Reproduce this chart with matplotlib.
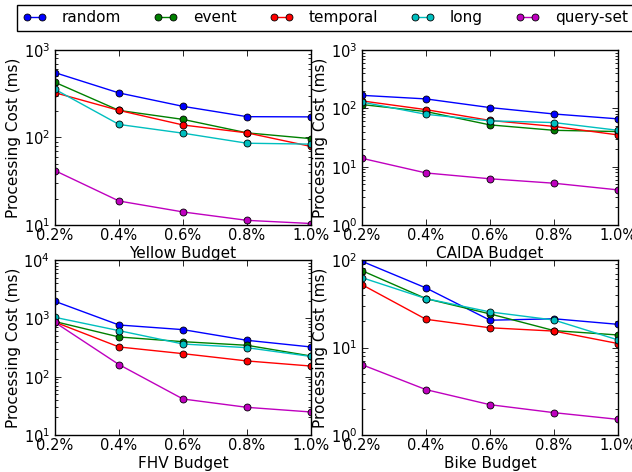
import matplotlib
matplotlib.use('Agg')
import matplotlib.pyplot as plt
from matplotlib.ticker import FixedLocator, FuncFormatter

budgets = [0.2, 0.4, 0.6, 0.8, 1.0]
tick_labels = ['0.2%', '0.4%', '0.6%', '0.8%', '1.0%']
methods = ['random', 'event', 'temporal', 'long', 'query-set']
colors = ['b', 'g', 'r', 'c', 'm']

yellow_random = [551, 323, 227, 173, 172]
yellow_event = [427, 204, 161, 113, 97]
yellow_temporal = [325, 204, 139, 113, 79]
yellow_long = [355, 141, 112, 86, 84]
yellow_query = [41.8, 18.8, 14.1, 11.3, 10.4]

caida_random = [167, 145, 103, 80, 66]
caida_event = [116, 88, 52, 42, 40]
caida_temporal = [134, 95, 62, 49, 35]
caida_long = [128, 79, 61, 57, 42]
caida_query = [13.9, 7.8, 6.2, 5.2, 4.0]

fhv_random = [1955, 769, 640, 420, 323]
fhv_event = [880, 479, 398, 345, 226]
fhv_temporal = [860, 323, 248, 186, 152]
fhv_long = [1040, 615, 363, 314, 222]
fhv_query = [850, 161, 41.4, 29.8, 24.8]

bike_random = [96.6, 47.9, 20.5, 21.3, 18.4]
bike_event = [75.5, 36.2, 24.2, 15.6, 13.9]
bike_temporal = [52.2, 21.0, 16.8, 15.4, 11.1]
bike_long = [62.8, 36.2, 25.5, 20.6, 12.2]
bike_query = [6.36, 3.3, 2.22, 1.8, 1.51]

panels = [
    ('Yellow Budget', [yellow_random, yellow_event, yellow_temporal, yellow_long, yellow_query], (10, 1e3)),
    ('CAIDA Budget', [caida_random, caida_event, caida_temporal, caida_long, caida_query], (1, 1e3)),
    ('FHV Budget', [fhv_random, fhv_event, fhv_temporal, fhv_long, fhv_query], (10, 1e4)),
    ('Bike Budget', [bike_random, bike_event, bike_temporal, bike_long, bike_query], (1, 1e2)),
]

W, H = 632, 472
fig = plt.figure(figsize=(W / 100, H / 100), dpi=100)

# axes boxes in pixels: left, top, right, bottom
boxes = [(55, 50, 311, 225), (362, 50, 618, 225),
         (55, 260, 311, 435), (362, 260, 618, 435)]

handles = []
for (title, series, ylim), (l, t, r, b) in zip(panels, boxes):
    ax = fig.add_axes([l / W, 1 - b / H, (r - l) / W, (b - t) / H])
    lines = []
    for vals, c, name in zip(series, colors, methods):
        ln, = ax.plot(budgets, vals, color=c, lw=1, marker='o', ms=5,
                      mec='k', mew=0.6, label=name)
        lines.append(ln)
    handles = lines
    ax.set_yscale('log')
    ax.set_ylim(*ylim)
    ax.set_xlim(0.2, 1.0)
    ax.xaxis.set_major_locator(FixedLocator(budgets))
    ax.xaxis.set_major_formatter(FuncFormatter(lambda v, p: '%.1f%%' % v))
    ax.tick_params(which='both', direction='in', top=True, right=True, labelsize=10.5)
    ax.tick_params(which='major', length=4, width=0.6)
    ax.tick_params(which='minor', length=2, width=0.6)
    ax.tick_params(axis='x', pad=2)
    ax.set_xlabel(title, fontsize=11, labelpad=2)
    ax.set_ylabel('Processing Cost (ms)', fontsize=11, labelpad=2)
    for s in ax.spines.values():
        s.set_linewidth(1)

fig.legend(handles, methods, loc='upper left', bbox_to_anchor=(17 / W, 1 - 5 / H),
           ncol=5, fontsize=11, numpoints=2, handlelength=1.6, handletextpad=1.0,
           columnspacing=2.1, borderpad=0.35, borderaxespad=0, fancybox=False,
           framealpha=1, edgecolor='k')

fig.savefig('out.png', dpi=100)
